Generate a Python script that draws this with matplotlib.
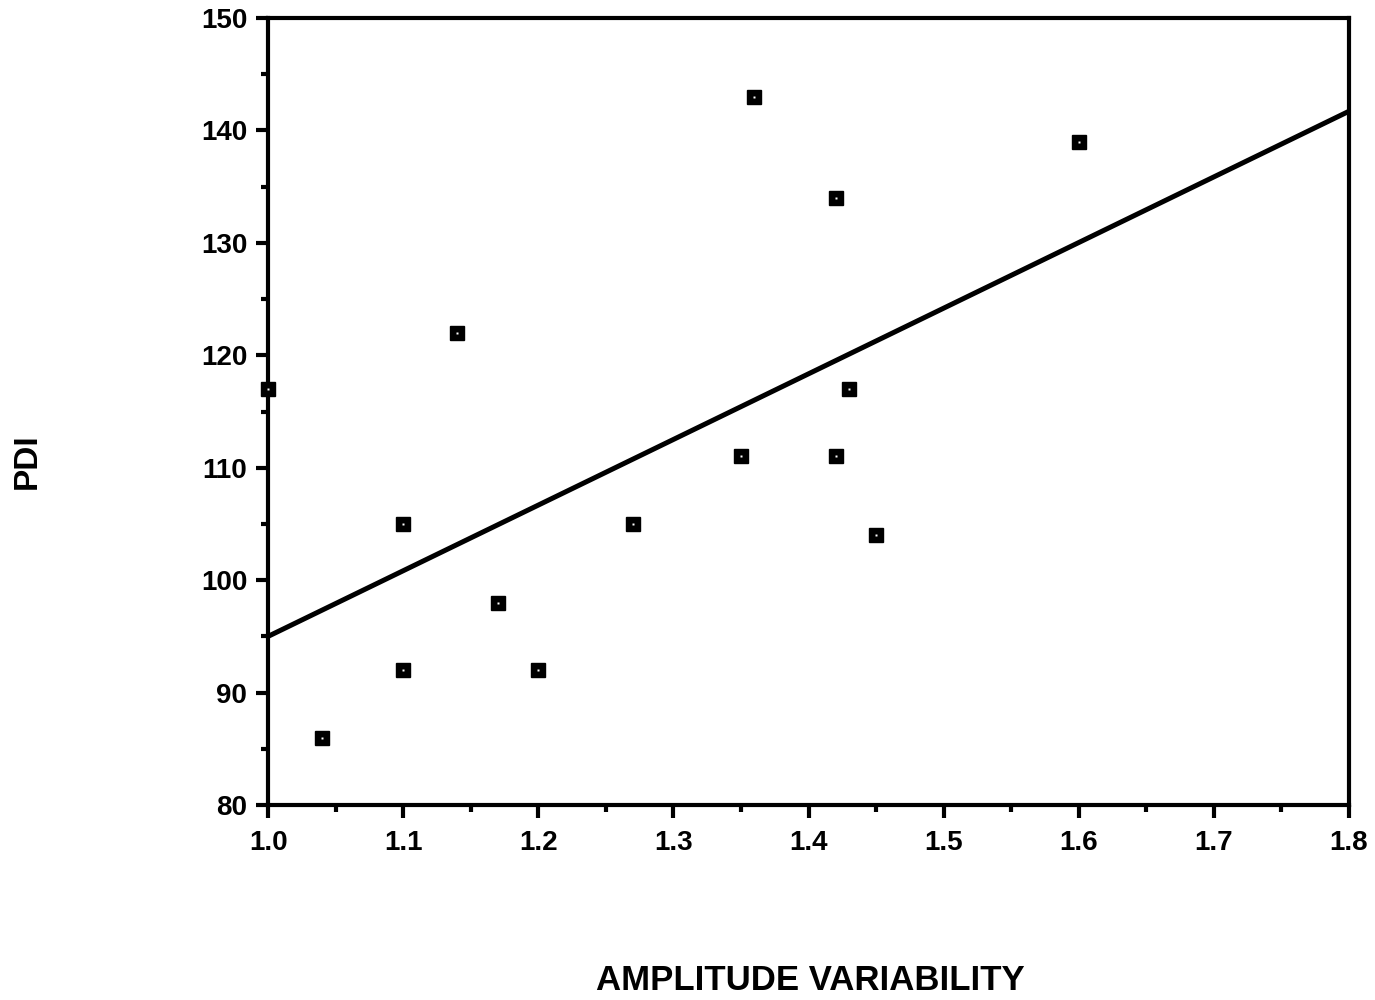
import matplotlib
matplotlib.use('Agg')
import matplotlib.pyplot as plt
from matplotlib.ticker import MultipleLocator

# data
amp_var = [1.00, 1.04, 1.10, 1.10, 1.14, 1.17, 1.20, 1.27, 1.35, 1.36, 1.42, 1.42, 1.43, 1.45, 1.60]
pdi = [117, 86, 105, 92, 122, 98, 92, 105, 111, 143, 134, 111, 117, 104, 139]

# regression line as drawn
fit_x = [1.0, 1.8]
fit_y = [95.0, 141.7]

x_ticks = [1.0, 1.1, 1.2, 1.3, 1.4, 1.5, 1.6, 1.7, 1.8]
y_ticks = [80, 90, 100, 110, 120, 130, 140, 150]

plt.rcParams['font.family'] = ['Liberation Sans', 'DejaVu Sans']
plt.rcParams['font.weight'] = 'bold'

fig = plt.figure(figsize=(13.75, 10), dpi=100)
ax = fig.add_axes([0.195, 0.195, 0.786, 0.787])

ax.plot(fit_x, fit_y, color='black', linewidth=3.6, solid_capstyle='butt', zorder=2)
ax.plot(amp_var, pdi, linestyle='none', marker='s', markersize=10,
        markerfacecolor='black', markeredgecolor='black', zorder=3, clip_on=False)
ax.plot(amp_var, pdi, linestyle='none', marker='s', markersize=1.8,
        markerfacecolor='white', markeredgecolor='none', zorder=4, clip_on=False)

ax.set_xlim(1.0, 1.8)
ax.set_ylim(80, 150)
ax.set_xticks(x_ticks)
ax.set_xticklabels([f"{v:.1f}" for v in x_ticks])
ax.set_yticks(y_ticks)
ax.xaxis.set_minor_locator(MultipleLocator(0.05))
ax.yaxis.set_minor_locator(MultipleLocator(5))

for s in ax.spines.values():
    s.set_linewidth(3)
ax.tick_params(which='major', direction='out', length=9, width=3, labelsize=20)
ax.tick_params(axis='x', which='major', pad=9)
ax.tick_params(axis='y', which='major', pad=6)
ax.tick_params(which='minor', direction='out', length=5, width=3)
for lab in ax.get_xticklabels() + ax.get_yticklabels():
    lab.set_fontweight('bold')

fig.text(0.589, 0.02, "AMPLITUDE VARIABILITY", ha='center', va='center',
         fontsize=25, fontweight='bold')
fig.text(0.02, 0.539, "PDI", ha='center', va='center', rotation=90,
         fontsize=24, fontweight='bold')

fig.savefig('out.png', dpi=100)
